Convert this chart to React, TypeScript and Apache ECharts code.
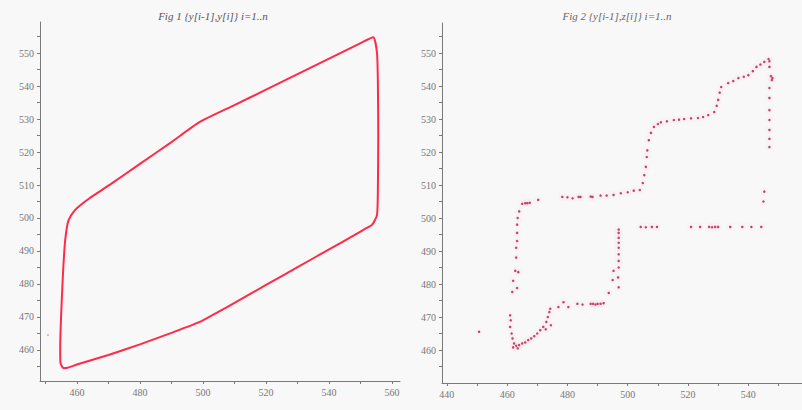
import React, { useEffect, useRef } from "react";
import * as echarts from "echarts";

// Fig 1: closed loop (y[i-1], y[i])
const loopX = [455.6, 457, 460, 470, 480, 490, 499, 505, 510, 520, 530, 540, 548, 551.4, 553.6, 555.2, 555.5, 555.6, 555.5, 555.2, 554, 550, 540, 530, 520, 509.5, 499, 490, 480, 470.5, 464, 461, 459.4, 458, 457.1, 456.2, 455.6, 455.2, 454.9, 454.7, 454.8, 455.6];
const loopY = [454.5, 454.6, 455.6, 458.5, 461.7, 465.2, 468.5, 471.6, 474.3, 479.7, 485.1, 490.5, 494.8, 496.7, 497.9, 500.9, 510, 525, 540, 550, 554.8, 553, 548.3, 543.6, 538.9, 534, 529.1, 523, 516.4, 510.1, 506, 503.8, 502.4, 500.5, 498.5, 492.4, 483.3, 475, 468, 460.5, 456, 454.5];
const strayX = [450.8];
const strayY = [464.5];

// Fig 2: scatter (y[i-1], z[i])
const dotsX = [
  450.7,
  461, 461.2, 461, 461.5, 461.8, 462.3, 463, 464, 465, 466, 467, 468, 469, 470, 471, 472, 473, 473.5, 474, 474.3, 472.8, 474.5, 462, 463.5,
  477, 478.7, 480.3, 483.3, 485, 487.7, 488.5, 489.3, 490, 491, 492,
  493.7, 495, 495.3, 497, 497, 497, 497, 497, 497, 497, 497, 497, 496.8,
  504.3, 506, 508, 509.7, 521, 524, 527, 528, 529, 530, 534, 538, 541, 544.3,
  461.7, 463.3, 462, 462.7, 463.7, 463, 463, 463.3, 463.3, 463.3, 463.5, 464,
  465, 466, 466.7, 467.5, 470.3,
  478.3, 480, 481.7, 483.7, 484.3, 487.7, 488.3, 491, 493, 495.3, 497.7, 500, 502, 504,
  505, 505.5, 506, 506.3, 506.5, 507, 507.7, 508.7, 510, 511,
  513, 515.3, 517, 518.7, 521, 523.3, 525, 526.7, 528.7,
  529.5, 530, 530.5, 531, 533.3, 535, 536.7, 538.5, 540, 541.5, 542.7, 544, 545.3, 546.7, 547,
  547, 547.5, 548, 547.8, 547, 547, 547, 547, 547, 547, 547,
  545.3, 545
];
const dotsY = [
  465.5,
  470.5, 469, 467, 465, 463.5, 462, 461.3, 461.5, 462, 462.3, 463, 463.5, 464.2, 465, 466, 467, 468.5, 470, 471.5, 472.5, 466.3, 467.5, 460.8, 460.5,
  473, 474.5, 473, 474, 473.8, 474, 474, 473.8, 474, 474, 474.2,
  477.3, 481.2, 484, 485, 487, 489, 491, 492.5, 494, 495.5, 496.5, 479, 482,
  497.3, 497.2, 497.3, 497.3, 497.3, 497.3, 497.3, 497.2, 497.3, 497.3, 497.3, 497.3, 497.3, 497.3,
  477.6, 478.8, 481, 484, 483.6, 488, 491, 493, 495.5, 498, 500, 502,
  504.3, 504.5, 504.5, 504.6, 505.5,
  506.4, 506.3, 506, 506.4, 506.4, 506.5, 506.4, 506.8, 506.8, 507, 507.5, 507.8, 508.3, 508.5,
  510.6, 513, 515.5, 518.5, 520.5, 523.6, 525.8, 527.6, 528.5, 529,
  529.3, 529.7, 529.8, 530, 530.2, 530.3, 530.6, 531.2, 532.1,
  534, 535.8, 538, 539.7, 540.9, 541.5, 542.4, 542.8, 543.3, 544.5, 545.8, 546.5, 547.3, 548.2, 547.5,
  545.8, 543, 542.4, 541.8, 539.4, 536.4, 532.7, 529.7, 526.7, 524, 521.5,
  508, 505
];

// Tick / label values
const yTicks = [455, 460, 465, 470, 475, 480, 485, 490, 495, 500, 505, 510, 515, 520, 525, 530, 535, 540, 545, 550, 555];
const yLabels = [460, 470, 480, 490, 500, 510, 520, 530, 540, 550];
const x1Ticks = [450, 460, 470, 480, 490, 500, 510, 520, 530, 540, 550, 560];
const x1Labels = [460, 480, 500, 520, 540, 560];
const x2Ticks = [440, 450, 460, 470, 480, 490, 500, 510, 520, 530, 540, 550];
const x2Labels = [440, 460, 480, 500, 520, 540];

const titles = ["Fig 1 {y[i-1],y[i]} i=1..n", "Fig 2 {y[i-1],z[i]} i=1..n"];

const zip = (a: number[], b: number[]) => a.map((v, i) => [v, b[i]]);

export default function App() {
  const ref = useRef<HTMLDivElement>(null);
  useEffect(() => {
    document.body.style.margin = "0";
    const chart = echarts.init(ref.current!, null, { renderer: "svg" });
    const axisCommon = {
      type: "value" as const,
      splitLine: { show: false },
      axisLine: { show: true, onZero: false, lineStyle: { color: "#7a7a7a", width: 1 } },
      axisTick: { show: true, length: 3, lineStyle: { color: "#7a7a7a" } },
    };
    const labelStyle = { color: "#777", fontSize: 10, fontFamily: "Liberation Serif" };
    chart.setOption({
      animation: false,
      backgroundColor: "#f8f8f8",
      title: [
        { text: titles[0], left: 208, top: 5, textAlign: "center", textStyle: { fontSize: 11, fontStyle: "italic", fontWeight: "normal", fontFamily: "Liberation Serif", color: "#555" } },
        { text: titles[1], left: 612, top: 5, textAlign: "center", textStyle: { fontSize: 11, fontStyle: "italic", fontWeight: "normal", fontFamily: "Liberation Serif", color: "#666" } },
      ],
      grid: [
        { left: 40, top: 22, width: 360, height: 359, show: false },
        { left: 442, top: 23, width: 360, height: 360, show: false },
      ],
      xAxis: [
        { ...axisCommon, gridIndex: 0, min: 448.3, max: 562.5, axisTick: { ...axisCommon.axisTick, customValues: x1Ticks }, axisLabel: { ...labelStyle, margin: 6, customValues: x1Labels } },
        { ...axisCommon, gridIndex: 1, min: 438.4, max: 557.8, axisTick: { ...axisCommon.axisTick, customValues: x2Ticks }, axisLabel: { ...labelStyle, margin: 6, customValues: x2Labels } },
      ],
      yAxis: [
        { ...axisCommon, gridIndex: 0, min: 450.6, max: 559.4, axisTick: { ...axisCommon.axisTick, customValues: yTicks }, axisLabel: { ...labelStyle, margin: 6, customValues: yLabels } },
        { ...axisCommon, gridIndex: 1, min: 450, max: 559.1, axisTick: { ...axisCommon.axisTick, customValues: yTicks }, axisLabel: { ...labelStyle, margin: 6, customValues: yLabels } },
      ],
      series: [
        {
          type: "line", xAxisIndex: 0, yAxisIndex: 0, data: zip(loopX, loopY), smooth: 0.2,
          showSymbol: false, lineStyle: { color: "#ff2a4a", width: 2 },
        },
        {
          type: "scatter", xAxisIndex: 0, yAxisIndex: 0, data: zip(strayX, strayY), symbolSize: 2,
          itemStyle: { color: "#ff7fbf" },
        },
        {
          type: "scatter", xAxisIndex: 1, yAxisIndex: 1, data: zip(dotsX, dotsY), symbolSize: 2.5,
          itemStyle: { color: "#b8224f", opacity: 0.85, shadowBlur: 5, shadowColor: "rgba(255,120,170,0.7)" },
        },
      ],
    });
    return () => chart.dispose();
  }, []);
  return <div ref={ref} style={{ width: 802, height: 410 }} />;
}
